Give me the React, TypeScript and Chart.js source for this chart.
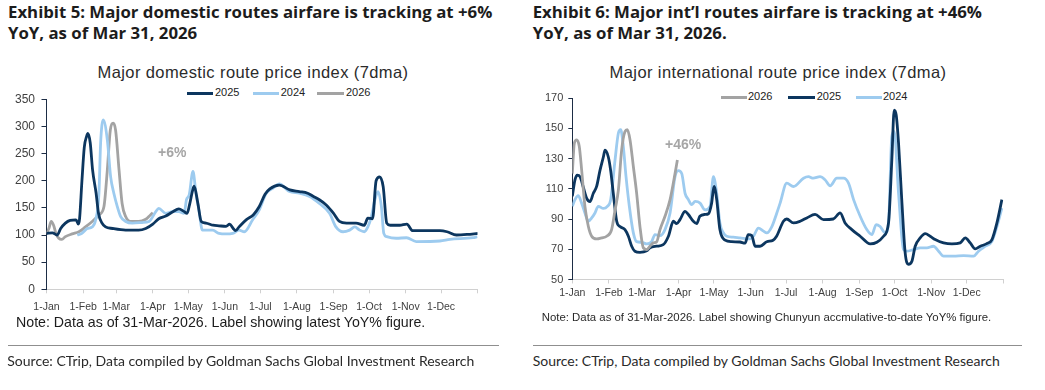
import React, { useEffect, useRef } from "react";
import { Chart, registerables } from "chart.js";

Chart.register(...registerables);

// ---------- DATA ----------
const monthTicks = [0, 31, 59, 90, 120, 151, 181, 212, 243, 273, 304, 334, 365];
const monthLabels = ["1-Jan", "1-Feb", "1-Mar", "1-Apr", "1-May", "1-Jun", "1-Jul", "1-Aug", "1-Sep", "1-Oct", "1-Nov", "1-Dec", ""];

const domYTicks = [0, 50, 100, 150, 200, 250, 300, 350];
const intYTicks = [50, 70, 90, 110, 130, 150, 170];

// Domestic route price index (7dma): [day of year, index]
const dom2025: [number, number][] = [
  [0, 103], [5, 104], [9, 100], [12, 112], [16, 122], [20, 127], [25, 128], [27, 120], [28, 130], [30, 200],
  [32, 262], [34, 282], [35, 287], [37, 270], [39, 220], [42, 177], [44, 140], [47, 122], [50, 115], [56, 112],
  [67, 109], [78, 109], [84, 112], [90, 120], [95, 130], [101, 135], [107, 143], [112, 148], [116, 144], [119, 140],
  [121, 155], [124, 185], [125, 190], [128, 160], [131, 125], [135, 122], [141, 118], [146, 117], [152, 116], [155, 120],
  [158, 112], [160, 108], [163, 115], [169, 128], [175, 137], [180, 152], [185, 175], [189, 185], [197, 192], [206, 183],
  [214, 180], [221, 177], [226, 171], [231, 165], [237, 155], [243, 140], [248, 125], [254, 122], [262, 122], [269, 118],
  [272, 131], [276, 130], [279, 200], [282, 207], [285, 189], [288, 122], [291, 118], [299, 118], [305, 120], [310, 108],
  [322, 108], [333, 108], [339, 106], [347, 100], [356, 101], [365, 103],
];
const dom2024: [number, number][] = [
  [26, 100], [30, 103], [34.5, 112], [38.7, 115], [41.6, 128], [44.4, 177], [45.8, 269], [48, 312], [51.5, 275], [54.3, 207],
  [57, 177], [60, 152], [62.8, 134], [67, 125], [72.7, 122], [81, 123], [86.8, 125], [92.5, 143], [95, 149], [101, 140],
  [106.6, 143], [112, 143], [116.5, 140], [118.5, 165], [120.8, 174], [124, 217], [126.5, 177], [129, 146], [132, 109], [140.6, 109],
  [146, 103], [152, 102], [157.6, 103], [163, 109], [167.5, 106], [174.5, 128], [180, 146], [186, 177], [191.5, 186], [197, 194],
  [205.7, 180], [214, 177], [222.7, 171], [231, 158], [239.6, 140], [245, 115], [251, 106], [256.6, 109], [261, 115], [265, 109],
  [269, 106], [272, 115], [275, 134], [278, 165], [280.6, 180], [283.5, 152], [285.5, 103], [288, 97], [296, 94], [304.8, 95],
  [313, 88], [333, 89], [341.5, 92], [361, 95], [364.7, 97],
];
const dom2026: [number, number][] = [
  [0, 103], [2, 112], [4, 125], [6, 118], [8, 103], [10.4, 94], [13, 92], [16, 97], [21.7, 102], [27.4, 106],
  [33, 115], [38.7, 125], [44.4, 137], [48.6, 152], [51.5, 220], [54, 293], [56.5, 306], [58.5, 293], [61.4, 220], [64, 158],
  [67, 134], [71, 125], [78, 125], [84, 129], [88, 137], [90, 141],
];

// International route price index (7dma): [day of year, index]
const int2025: [number, number][] = [
  [0, 105], [2.3, 116], [4.2, 119], [6.5, 118], [9.3, 111], [12, 104], [15, 101.5], [17.8, 107], [20.6, 111.5], [23.4, 122],
  [26.3, 131], [27.7, 135.5], [30.5, 131], [32.5, 122], [34.7, 107], [37.6, 88.5], [40.4, 85], [44.6, 83], [47.5, 78.6], [50.3, 72],
  [53, 68.7], [57.3, 68], [63, 69], [65.8, 71], [71.5, 72], [77, 73], [81.4, 78.6], [85.6, 88.5], [88.4, 87], [91.2, 89.6],
  [95.5, 95], [98.3, 93], [102.5, 88.5], [105.4, 87], [108, 91.8], [112.4, 93], [115.3, 93.5], [118, 100.5], [120, 111.5], [122.3, 102.8],
  [125, 83], [129.4, 76], [135, 75], [142, 74.8], [146.3, 74], [149, 79.7], [152, 79], [154.8, 72], [159, 72], [164.7, 75],
  [170, 76], [173, 78.6], [178.8, 88.5], [181.6, 90], [187.3, 87.4], [192.9, 88.5], [198.6, 90.7], [205.6, 93], [212.7, 89.6], [221, 90],
  [226.8, 94], [231, 87.4], [236.7, 83], [243.8, 78.6], [252.3, 73.5], [257.9, 74.6], [263.6, 78.6], [267.8, 87.4], [270.6, 129], [272.6, 162],
  [274.3, 158.8], [276.3, 140], [279, 102.8], [281.9, 67.6], [284.7, 60], [287.6, 62], [290.4, 72], [294.6, 77.5], [298.9, 80.3], [303.1, 78.6],
  [307.3, 76.4], [314.4, 74.2], [321.5, 73.5], [328.5, 74.2], [332.8, 77.5], [337, 74.2], [341.2, 70.2], [345.5, 72], [351, 73.7], [355.4, 76.4],
  [359.6, 87.4], [363.8, 102.8],
];
const int2024: [number, number][] = [
  [0, 98.4], [2.3, 102.8], [5, 105.4], [7.9, 100.5], [10.7, 94], [13.6, 88.5], [16.4, 90.7], [19.2, 94], [22, 98.4], [26.3, 97],
  [29.7, 98.4], [32.5, 102.8], [36.2, 129], [39, 146.7], [41, 149], [43.2, 138], [45.5, 118], [48.3, 98.4], [51.7, 80.8], [54.5, 75],
  [58.8, 74.6], [63, 73.5], [67.2, 75], [70, 79.7], [74.3, 79], [78.5, 83], [82.8, 94], [87, 118], [89.8, 122], [92.7, 120],
  [95.5, 107], [98.3, 102.8], [101, 99.5], [104, 101.6], [108.2, 100.5], [112.4, 96], [116.7, 98.4], [119.5, 118], [122.3, 107], [125, 87.4],
  [128, 80.8], [130.8, 78.6], [136.4, 78], [142, 77.5], [150.6, 76.8], [153.4, 78.6], [157.6, 84], [161.9, 82], [164.7, 80.8], [169, 85],
  [173.2, 94], [176, 100.5], [181.6, 113.7], [187.3, 111.5], [195.8, 117], [200, 118], [204, 117], [209.8, 118], [214, 116], [218.4, 112],
  [224, 117], [229.7, 117], [233.9, 113.7], [238.2, 102.8], [243.8, 91.8], [249.4, 83], [253.7, 79.7], [257.3, 86.3], [260.7, 85], [265, 80.8],
  [267.8, 87.4], [270.6, 144.5], [272.6, 148], [276.3, 107], [280.5, 69.8], [283.3, 68.7], [289, 69.8], [294.6, 70.9], [300.3, 70.9], [305.9, 72],
  [310.2, 68.7], [314.4, 65.4], [322.9, 65.4], [331.4, 65.8], [339.8, 65.4], [344, 68.7], [349.7, 72], [355.4, 75.3], [359.6, 85], [363.8, 97.2],
];
const int2026: [number, number][] = [
  [0, 120], [1.7, 140], [3.7, 142.3], [5.9, 138], [7.9, 122.5], [10.7, 98.4], [13.6, 85], [16.4, 78.6], [20.6, 76.8], [24.9, 77.5],
  [29.1, 78.6], [33.3, 83], [36.2, 96], [39, 109], [41.8, 135.7], [44.6, 147.8], [46.6, 149], [48.9, 142.3], [51.7, 124.7], [54.5, 107],
  [57.3, 85], [60.2, 70.9], [63, 69.8], [65.8, 72], [68.6, 74.2], [71.5, 75], [74.3, 83], [78.5, 91.8], [82.8, 102.8], [87, 120],
  [89, 129],
];

// ---------- STYLE ----------
const NAVY = "#0c365f";
const LIGHT = "#9dcbef";
const GREY = "#a3a3a3";
const TICK_FONT = "'Liberation Sans', Arial, sans-serif";

type PanelCfg = {
  series: { label: string; data: [number, number][]; color: string }[];
  yTicks: number[];
  yWidth: number;
  xHeight: number;
  padTop: number;
  padRight: number;
  yFont: number;
  yTickLen: number;
  yPad: number;
  xPad: number;
};

function makeChart(canvas: HTMLCanvasElement, cfg: PanelCfg) {
  return new Chart(canvas, {
    type: "line",
    data: {
      datasets: cfg.series.map((s) => ({
        label: s.label,
        data: s.data.map(([x, y]) => ({ x, y })),
        borderColor: s.color,
        backgroundColor: s.color,
        borderWidth: 2.8,
        pointRadius: 0,
        cubicInterpolationMode: "monotone" as const,
        fill: false,
      })),
    },
    options: {
      responsive: false,
      animation: false,
      devicePixelRatio: 1,
      layout: { padding: { top: cfg.padTop, right: cfg.padRight, left: 0, bottom: 0 } },
      plugins: { legend: { display: false }, title: { display: false }, tooltip: { enabled: false } },
      scales: {
        x: {
          type: "linear",
          min: 0,
          max: 365,
          afterFit: (s: any) => { s.height = cfg.xHeight; },
          afterBuildTicks: (s: any) => { s.ticks = monthTicks.map((v) => ({ value: v })); },
          ticks: {
            autoSkip: false,
            maxRotation: 0,
            padding: cfg.xPad,
            color: "#404040",
            font: { family: TICK_FONT, size: 10.5 },
            callback: (v: any) => monthLabels[monthTicks.indexOf(Number(v))] ?? "",
          },
          grid: { drawOnChartArea: false, drawTicks: true, tickLength: 4, color: "#d0d0d0" },
          border: { display: true, color: "#d0d0d0", width: 1 },
        },
        y: {
          type: "linear",
          min: cfg.yTicks[0],
          max: cfg.yTicks[cfg.yTicks.length - 1],
          afterFit: (s: any) => { s.width = cfg.yWidth; },
          afterBuildTicks: (s: any) => { s.ticks = cfg.yTicks.map((v) => ({ value: v })); },
          ticks: {
            padding: cfg.yPad,
            color: "#404040",
            font: { family: TICK_FONT, size: cfg.yFont },
          },
          grid: { drawOnChartArea: false, drawTicks: true, tickLength: cfg.yTickLen, color: "#1d2d45" },
          border: { display: true, color: "#1d2d45", width: 1 },
        },
      },
    },
  } as any);
}

function ChartCanvas({ cfg, left, top, width, height }: { cfg: PanelCfg; left: number; top: number; width: number; height: number }) {
  const ref = useRef<HTMLCanvasElement | null>(null);
  useEffect(() => {
    if (!ref.current) return;
    const c = makeChart(ref.current, cfg);
    return () => c.destroy();
  }, []);
  return (
    <canvas
      ref={ref}
      width={width}
      height={height}
      style={{ position: "absolute", left, top, width, height }}
    />
  );
}

function LegendItem({ x1, x2, tx, yc, color, label }: { x1: number; x2: number; tx: number; yc: number; color: string; label: string }) {
  return (
    <>
      <div style={{ position: "absolute", left: x1, top: yc - 1.5, width: x2 - x1, height: 3, background: color }} />
      <div style={{ position: "absolute", left: tx, top: yc - 7, lineHeight: "14px", font: `11px ${TICK_FONT}`, color: "#222" }}>{label}</div>
    </>
  );
}

const domCfg: PanelCfg = {
  series: [
    { label: "2025", data: dom2025, color: NAVY },
    { label: "2024", data: dom2024, color: LIGHT },
    { label: "2026", data: dom2026, color: GREY },
  ],
  yTicks: domYTicks,
  yWidth: 46.5,
  xHeight: 25.7,
  padTop: 39.3,
  padRight: 27.3,
  yFont: 12,
  yTickLen: 5,
  yPad: 6.5,
  xPad: 8,
};

const intCfg: PanelCfg = {
  series: [
    { label: "2026", data: int2026, color: GREY },
    { label: "2025", data: int2025, color: NAVY },
    { label: "2024", data: int2024, color: LIGHT },
  ],
  yTicks: intYTicks,
  yWidth: 52.3,
  xHeight: 35.5,
  padTop: 38,
  padRight: 41.7,
  yFont: 11,
  yTickLen: 4,
  yPad: 5,
  xPad: 3,
};

const titleFont = "bold 16.8px 'Open Sans', Lato, sans-serif";
const sourceFont = "14px Lato, 'Open Sans', sans-serif";
const chartTitleFont = `16.5px ${TICK_FONT}`;

export default function App() {
  return (
    <div style={{ position: "absolute", left: 0, top: 0, width: 1045, height: 390, background: "#fff", overflow: "hidden" }}>
      {/* Left panel */}
      <div style={{ position: "absolute", left: 8, top: 2.4, font: titleFont, lineHeight: "20.6px", color: "#1c1c1c", whiteSpace: "nowrap" }}>
        Exhibit 5: Major domestic routes airfare is tracking at +6%<br />YoY, as of Mar 31, 2026
      </div>
      <div style={{ position: "absolute", left: 53, width: 400, top: 63, lineHeight: "20px", textAlign: "center", font: chartTitleFont, letterSpacing: "0.4px", color: "#2b2b2b", whiteSpace: "nowrap" }}>
        Major domestic route price index (7dma)
      </div>
      <LegendItem x1={187} x2={213} tx={215} yc={93.3} color={NAVY} label="2025" />
      <LegendItem x1={252.7} x2={279.3} tx={280.7} yc={93.3} color={LIGHT} label="2024" />
      <LegendItem x1={317} x2={344} tx={346} yc={93.3} color={GREY} label="2026" />
      <ChartCanvas cfg={domCfg} left={0} top={60} width={505} height={255} />
      <div style={{ position: "absolute", left: 158, top: 144, lineHeight: "18px", font: `bold 14px ${TICK_FONT}`, color: "#a6a6a6" }}>+6%</div>
      <div style={{ position: "absolute", left: 16, top: 313.7, lineHeight: "16px", font: `14.2px ${TICK_FONT}`, color: "#1c1c1c", whiteSpace: "nowrap" }}>
        Note: Data as of 31-Mar-2026. Label showing latest YoY% figure.
      </div>
      <div style={{ position: "absolute", left: 8, top: 345, width: 491, height: 1, background: "#8f8f8f" }} />
      <div style={{ position: "absolute", left: 7.3, top: 352, lineHeight: "18px", font: sourceFont, color: "#2a2a2a", whiteSpace: "nowrap" }}>
        Source: CTrip, Data compiled by Goldman Sachs Global Investment Research
      </div>

      {/* Right panel */}
      <div style={{ position: "absolute", left: 532.7, top: 2.4, font: titleFont, lineHeight: "20.6px", color: "#1c1c1c", whiteSpace: "nowrap" }}>
        Exhibit 6: Major int’l routes airfare is tracking at +46%<br />YoY, as of Mar 31, 2026.
      </div>
      <div style={{ position: "absolute", left: 578, width: 400, top: 63, lineHeight: "20px", textAlign: "center", font: chartTitleFont, letterSpacing: "0.4px", color: "#2b2b2b", whiteSpace: "nowrap" }}>
        Major international route price index (7dma)
      </div>
      <LegendItem x1={721} x2={746.7} tx={748} yc={97.3} color={GREY} label="2026" />
      <LegendItem x1={788} x2={815} tx={816.7} yc={97.3} color={NAVY} label="2025" />
      <LegendItem x1={856} x2={881.7} tx={883} yc={97.3} color={LIGHT} label="2024" />
      <ChartCanvas cfg={intCfg} left={520} top={60} width={525} height={255} />
      <div style={{ position: "absolute", left: 665, top: 136, lineHeight: "18px", font: `bold 14px ${TICK_FONT}`, color: "#a6a6a6" }}>+46%</div>
      <div style={{ position: "absolute", left: 541.7, top: 311.3, lineHeight: "14px", font: `11.4px ${TICK_FONT}`, color: "#2a2a2a", whiteSpace: "nowrap" }}>
        Note: Data as of 31-Mar-2026. Label showing Chunyun accmulative-to-date YoY% figure.
      </div>
      <div style={{ position: "absolute", left: 533, top: 345, width: 489, height: 1, background: "#8f8f8f" }} />
      <div style={{ position: "absolute", left: 532.7, top: 352, lineHeight: "18px", font: sourceFont, color: "#2a2a2a", whiteSpace: "nowrap" }}>
        Source: CTrip, Data compiled by Goldman Sachs Global Investment Research
      </div>
    </div>
  );
}
